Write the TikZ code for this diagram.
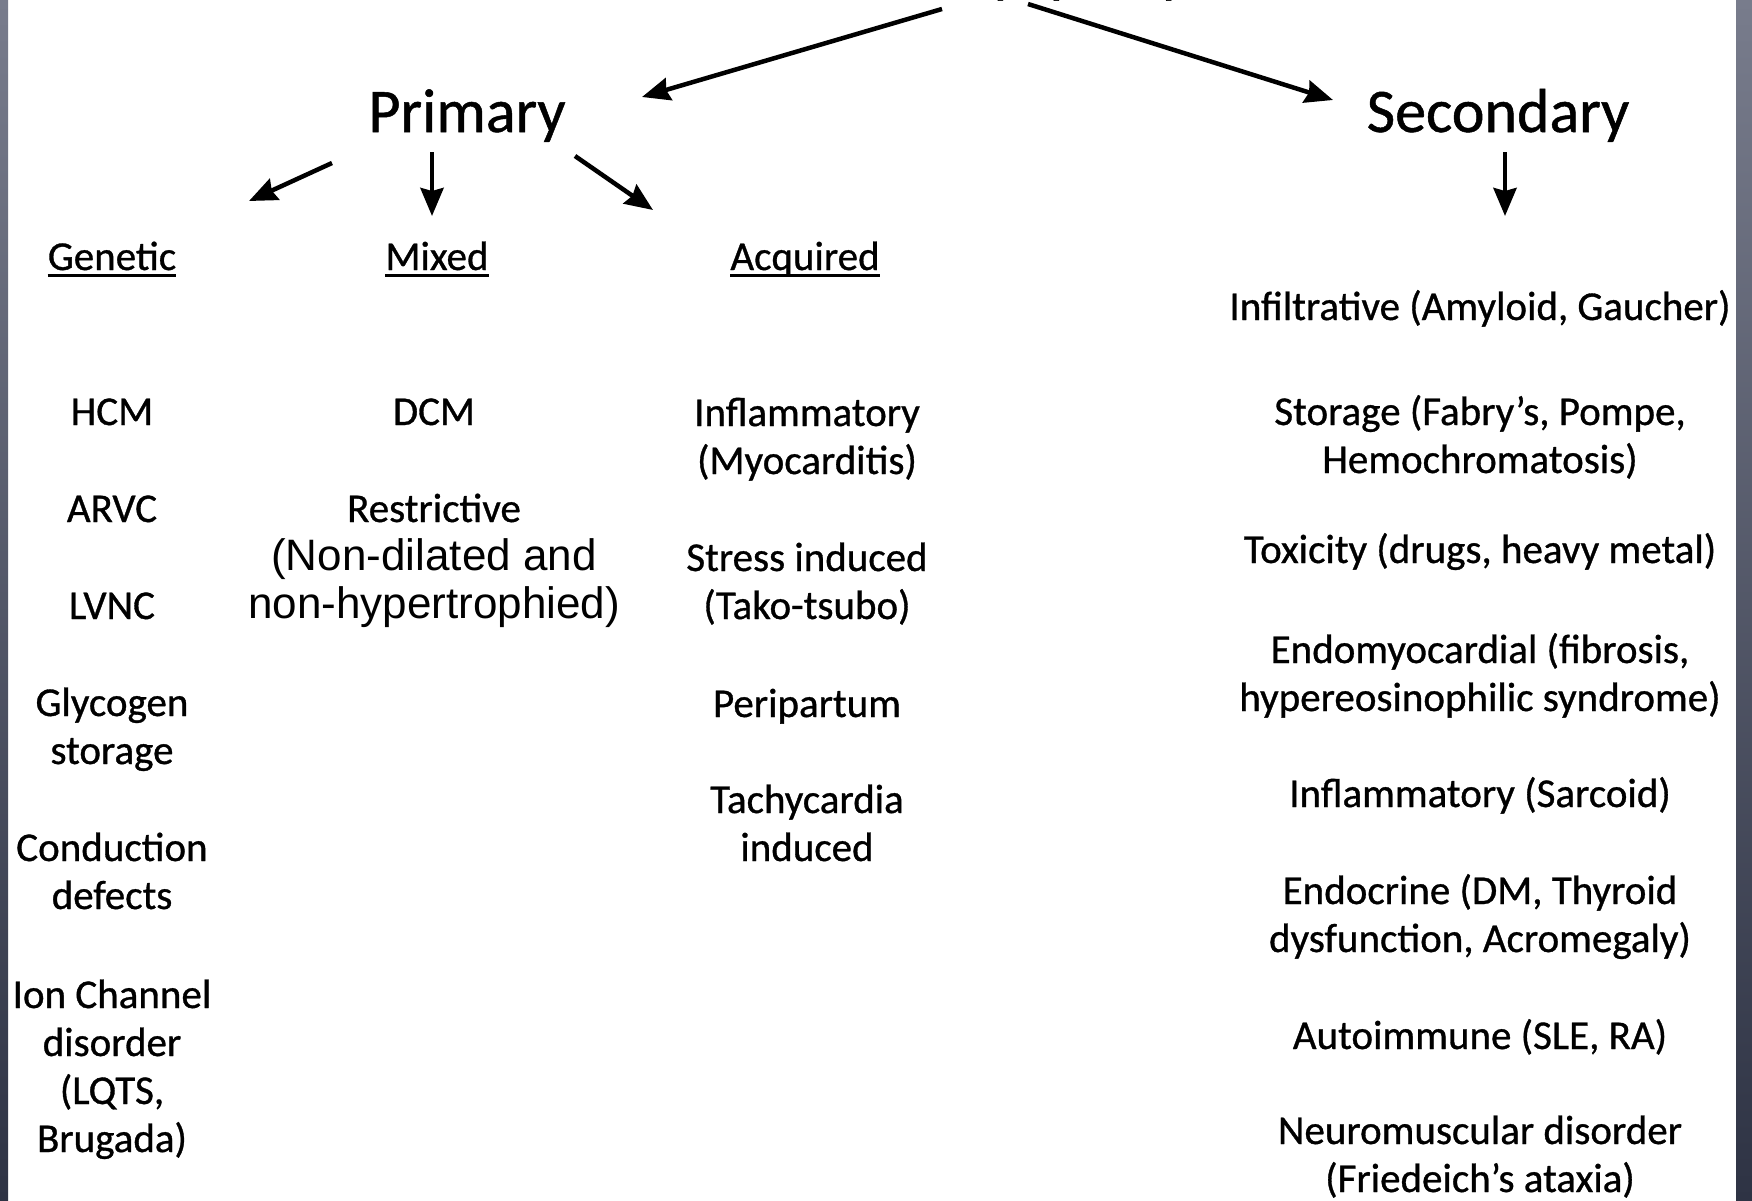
\documentclass[tikz,border=0pt]{standalone}
\usepackage{fontspec}
\setmainfont{Carlito}[FakeBold=0.8]
\newfontfamily\arialf{Liberation Sans}
\usetikzlibrary{arrows.meta}
\definecolor{stripTop}{RGB}{120,124,140}
\definecolor{stripBot}{RGB}{46,51,68}
\newcommand{\ml}[1]{\begin{tabular}[t]{@{}c@{}}#1\end{tabular}}
\begin{document}
\begin{tikzpicture}[x=1pt,y=-1pt,
  body/.style={inner sep=0pt, anchor=base, font=\fontsize{41}{48}\selectfont},
  big/.style={inner sep=0pt, anchor=base, font=\fontsize{62}{70}\selectfont},
  arr/.style={line width=4.5pt, -{Stealth[length=28pt,width=23pt,inset=3pt]}},
  uline/.style={line width=3pt}]
\useasboundingbox (0,0) rectangle (1752,1200);
\clip (0,0) rectangle (1752,1200);
\fill[white] (0,0) rectangle (1752,1200);
\shade[top color=stripTop,bottom color=stripBot] (0,0) rectangle (8,1200);
\shade[top color=stripTop,bottom color=stripBot] (1736,0) rectangle (1752,1200);

% headings
\node[big, font=\fontsize{60}{70}\selectfont] (title) at (987,-9) {Cardiomyopathy};
\node[big] (prim) at (467,132) {Primary};
\node[big] (sec) at (1498,132) {Secondary};
\node[body] (gen) at (112,270) {Genetic};
\node[body] (mix) at (437,270) {Mixed};
\node[body] (acq) at (805,270) {Acquired};

% genetic
\node[body] (hcm) at (112,425) {HCM};
\node[body] (arvc) at (112,522) {ARVC};
\node[body] (lvnc) at (112,619) {LVNC};
\node[body] (glyc) at (112,716) {\ml{Glycogen\\storage}};
\node[body] (cond) at (112,861) {\ml{Conduction\\defects}};
\node[body] (ion) at (112,1008) {\ml{Ion Channel\\disorder\\(LQTS,\\Brugada)}};

% mixed
\node[body] (dcm) at (434,425) {DCM};
\node[body] (restr) at (434,522) {\ml{Restrictive\\\arialf\fontsize{44}{48}\selectfont (Non-dilated and\\\arialf\fontsize{44}{48}\selectfont non-hypertrophied)}};

% acquired
\node[body] (infl) at (807,426) {\ml{Inflammatory\\(Myocarditis)}};
\node[body] (stress) at (807,571) {\ml{Stress induced\\(Tako-tsubo)}};
\node[body] (peri) at (807,717) {Peripartum};
\node[body] (tachy) at (807,813) {\ml{Tachycardia\\induced}};

% secondary
\node[body] (infil) at (1480,320) {Infiltrative (Amyloid, Gaucher)};
\node[body] (stor) at (1480,425) {\ml{Storage (Fabry’s, Pompe,\\Hemochromatosis)}};
\node[body] (tox) at (1480,563) {Toxicity (drugs, heavy metal)};
\node[body] (endo) at (1480,663) {\ml{Endomyocardial (fibrosis,\\hypereosinophilic syndrome)}};
\node[body] (sarc) at (1480,807) {Inflammatory (Sarcoid)};
\node[body] (endoc) at (1480,904) {\ml{Endocrine (DM, Thyroid\\dysfunction, Acromegaly)}};
\node[body] (auto) at (1480,1049) {Autoimmune (SLE, RA)};
\node[body] (neuro) at (1480,1144) {\ml{Neuromuscular disorder\\(Friedeich’s ataxia)}};

% underlines
\draw[uline] ([yshift=-5pt]gen.base west) -- ([yshift=-5pt]gen.base east);
\draw[uline] ([yshift=-5pt]mix.base west) -- ([yshift=-5pt]mix.base east);
\draw[uline] ([yshift=-5pt]acq.base west) -- ([yshift=-5pt]acq.base east);

% arrows
\draw[arr] ([shift={(-45pt,-18pt)}]title.base) -- ([shift={(175pt,35pt)}]prim.base);
\draw[arr] ([shift={(41pt,-13pt)}]title.base) -- ([shift={(-165pt,32pt)}]sec.base);
\draw[arr] ([shift={(-135pt,-31pt)}]prim.base) -- ([shift={(137pt,69pt)}]gen.base);
\draw[arr] ([shift={(-35pt,-20pt)}]prim.base) -- ([shift={(-5pt,54pt)}]mix.base);
\draw[arr] ([shift={(108pt,-24pt)}]prim.base) -- ([shift={(-152pt,60pt)}]acq.base);
\draw[arr] ([shift={(7pt,-20pt)}]sec.base) -- ([shift={(25pt,104pt)}]infil.base);
\end{tikzpicture}
\end{document}
